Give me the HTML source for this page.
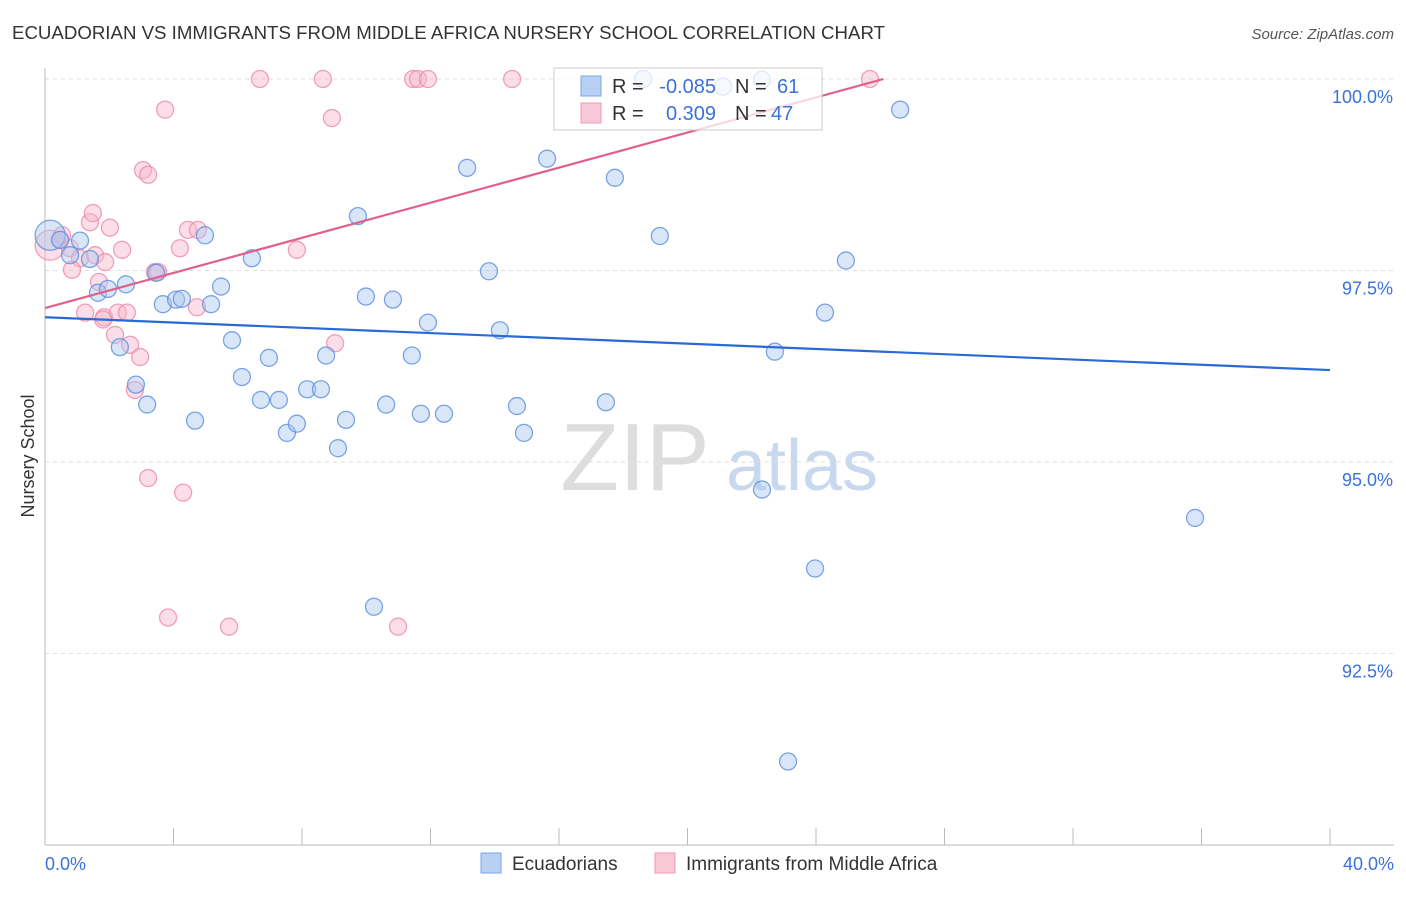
<!DOCTYPE html>
<html><head><meta charset="utf-8"><style>
body{margin:0;background:#fff;font-family:"Liberation Sans",sans-serif}
svg text{font-family:"Liberation Sans",sans-serif}
</style></head><body>
<svg id="c" width="1406" height="892">
<text x="12" y="39" font-size="18" fill="#333" textLength="873" lengthAdjust="spacingAndGlyphs">ECUADORIAN VS IMMIGRANTS FROM MIDDLE AFRICA NURSERY SCHOOL CORRELATION CHART</text>
<text x="1394" y="39" font-size="15" fill="#555" font-style="italic" text-anchor="end">Source: ZipAtlas.com</text>
<text x="34" y="456" font-size="18" fill="#333" text-anchor="middle" transform="rotate(-90 34 456)">Nursery School</text>
<g><text x="635" y="490" font-size="96" fill="#ddd" font-family="Liberation Serif" text-anchor="middle">ZIP</text><text x="802" y="490" font-size="72" fill="#c8d8ee" text-anchor="middle">atlas</text></g>
<g id="grid"></g><g id="marks"></g>
<g>
<rect x="554" y="68" width="268" height="62" fill="#fff" fill-opacity="0.75" stroke="#ccc"/>
<rect x="581" y="76" width="20" height="20" fill="#b8d0f4" stroke="#7aa6e8"/>
<text x="612" y="93" font-size="20" fill="#333">R =</text>
<text x="716" y="93" font-size="20" fill="#3a72d8" text-anchor="end">-0.085</text>
<text x="735" y="93" font-size="20" fill="#333">N =</text>
<text x="777" y="93" font-size="20" fill="#3a72d8">61</text>
<rect x="581" y="103" width="20" height="20" fill="#f9c8d6" stroke="#f09ab4"/>
<text x="612" y="120" font-size="20" fill="#333">R =</text>
<text x="716" y="120" font-size="20" fill="#3a72d8" text-anchor="end">0.309</text>
<text x="735" y="120" font-size="20" fill="#333">N =</text>
<text x="771" y="120" font-size="20" fill="#3a72d8">47</text>
</g>
<g>
<rect x="481" y="853" width="20" height="20" fill="#b8d0f4" stroke="#7aa6e8"/>
<text x="512" y="870" font-size="19" fill="#333">Ecuadorians</text>
<rect x="655" y="853" width="20" height="20" fill="#f9c8d6" stroke="#f09ab4"/>
<text x="686" y="870" font-size="19" fill="#333">Immigrants from Middle Africa</text>
</g>
</svg>
<script>
const yTicks=[100,97.5,95,92.5];
const yTickLabels=["100.0%","97.5%","95.0%","92.5%"];
const xTickLabels=["0.0%","40.0%"];
const blueX=[0.16,0.47,1.09,1.40,1.65,1.96,2.52,2.33,2.83,3.18,3.46,3.67,4.08,4.26,4.67,4.98,5.17,5.48,5.82,6.13,6.44,6.72,6.97,7.28,7.53,7.84,8.16,8.59,8.75,9.12,9.37,9.74,9.99,10.24,10.62,10.83,11.42,11.70,11.92,12.42,13.14,13.82,14.16,14.69,14.91,15.63,17.46,17.74,18.62,19.14,21.11,22.32,22.32,22.72,23.13,23.97,24.28,24.93,26.62,35.80,0.78];
const blueY=[97.96,97.90,97.89,97.65,97.21,97.26,97.32,96.50,96.01,95.75,97.47,97.06,97.12,97.13,95.54,97.96,97.06,97.29,96.59,96.11,97.66,95.81,96.36,95.81,95.38,95.50,95.95,95.95,96.39,95.18,95.55,98.21,97.16,93.11,95.75,97.12,96.39,95.63,96.82,95.63,98.84,97.49,96.72,95.73,95.38,98.96,95.78,98.71,100.0,97.95,99.90,99.99,94.64,96.44,91.09,93.61,96.95,97.63,99.60,94.27,97.70];
const pinkX=[0.16,0.47,0.78,1.09,0.84,1.40,1.49,1.68,1.25,1.84,2.02,2.18,2.27,2.40,2.55,2.65,2.80,2.96,3.05,3.21,3.21,3.42,3.52,3.74,3.83,4.20,4.30,4.45,4.76,4.73,5.73,6.69,7.84,8.65,8.93,9.03,10.99,11.46,11.61,11.92,14.54,25.68,1.81,0.53,1.56,1.87];
const pinkY=[97.83,97.90,97.79,97.66,97.51,98.13,98.25,97.35,96.95,96.89,98.06,96.66,96.95,97.77,96.95,96.53,95.94,96.37,98.81,98.75,94.79,97.48,97.48,99.60,92.97,97.79,94.60,98.03,98.03,97.02,92.85,100,97.77,100,99.49,96.55,92.85,100,100,100,100,100,96.86,97.96,97.70,97.61];
const blueTrend=[[0,96.89],[40,96.20]];
const pinkTrend=[[0,97.01],[26.1,100.0]];
const NS='http://www.w3.org/2000/svg';
const X=v=>45+v/40*1285, Y=v=>79+(100-v)*76.6;
function mk(t,a,p){const e=document.createElementNS(NS,t);for(const k in a)e.setAttribute(k,a[k]);p.appendChild(e);return e;}
const g=document.getElementById('grid'),m=document.getElementById('marks');
yTicks.forEach((t,i)=>{
 const l=mk('line',{x1:45,x2:1394,y1:Y(t),y2:Y(t),stroke:'#ddd','stroke-dasharray':'4,4'},g);
 
 
 const tx=mk('text',{x:1393,y:Y(t)+24,'font-size':18,fill:'#3a72d8','text-anchor':'end'},g);tx.textContent=yTickLabels[i];
 
 
});
const ax=mk('line',{x1:45,x2:45,y1:68,y2:845,stroke:'#bbb'},g);


const bx=mk('line',{x1:45,x2:1394,y1:845,y2:845,stroke:'#bbb'},g);


for(let i=1;i<=10;i++){const t=mk('line',{x1:X(i*4),x2:X(i*4),y1:828,y2:845,stroke:'#bbb'},g);
 
 }
[[0,'start',45],[40,'end',1394]].forEach((d,i)=>{const t=mk('text',{x:d[2],y:870,'font-size':18,fill:'#3a72d8','text-anchor':d[1]},g);t.textContent=xTickLabels[i];
 
 });
function pts(xs,ys,fill,stroke,name){xs.forEach((x,i)=>{const c=mk('circle',{cx:X(x),cy:Y(ys[i]),r:i===0?15:8.5,fill:fill,'fill-opacity':0.45,stroke:stroke,'stroke-width':1.3,'stroke-opacity':0.8},m);
 
 });}
pts(pinkX,pinkY,'#f7b6ca','#ee8aaa','pink-point');
pts(blueX,blueY,'#aac8f0','#5b8fe0','blue-point');
const bl=mk('line',{x1:X(blueTrend[0][0]),y1:Y(blueTrend[0][1]),x2:X(blueTrend[1][0]),y2:Y(blueTrend[1][1]),stroke:'#2a6ad6','stroke-width':2.2},m);


const pl=mk('line',{x1:X(pinkTrend[0][0]),y1:Y(pinkTrend[0][1]),x2:X(pinkTrend[1][0]),y2:Y(pinkTrend[1][1]),stroke:'#e0608a','stroke-width':2.2},m);


</script>
</body></html>
